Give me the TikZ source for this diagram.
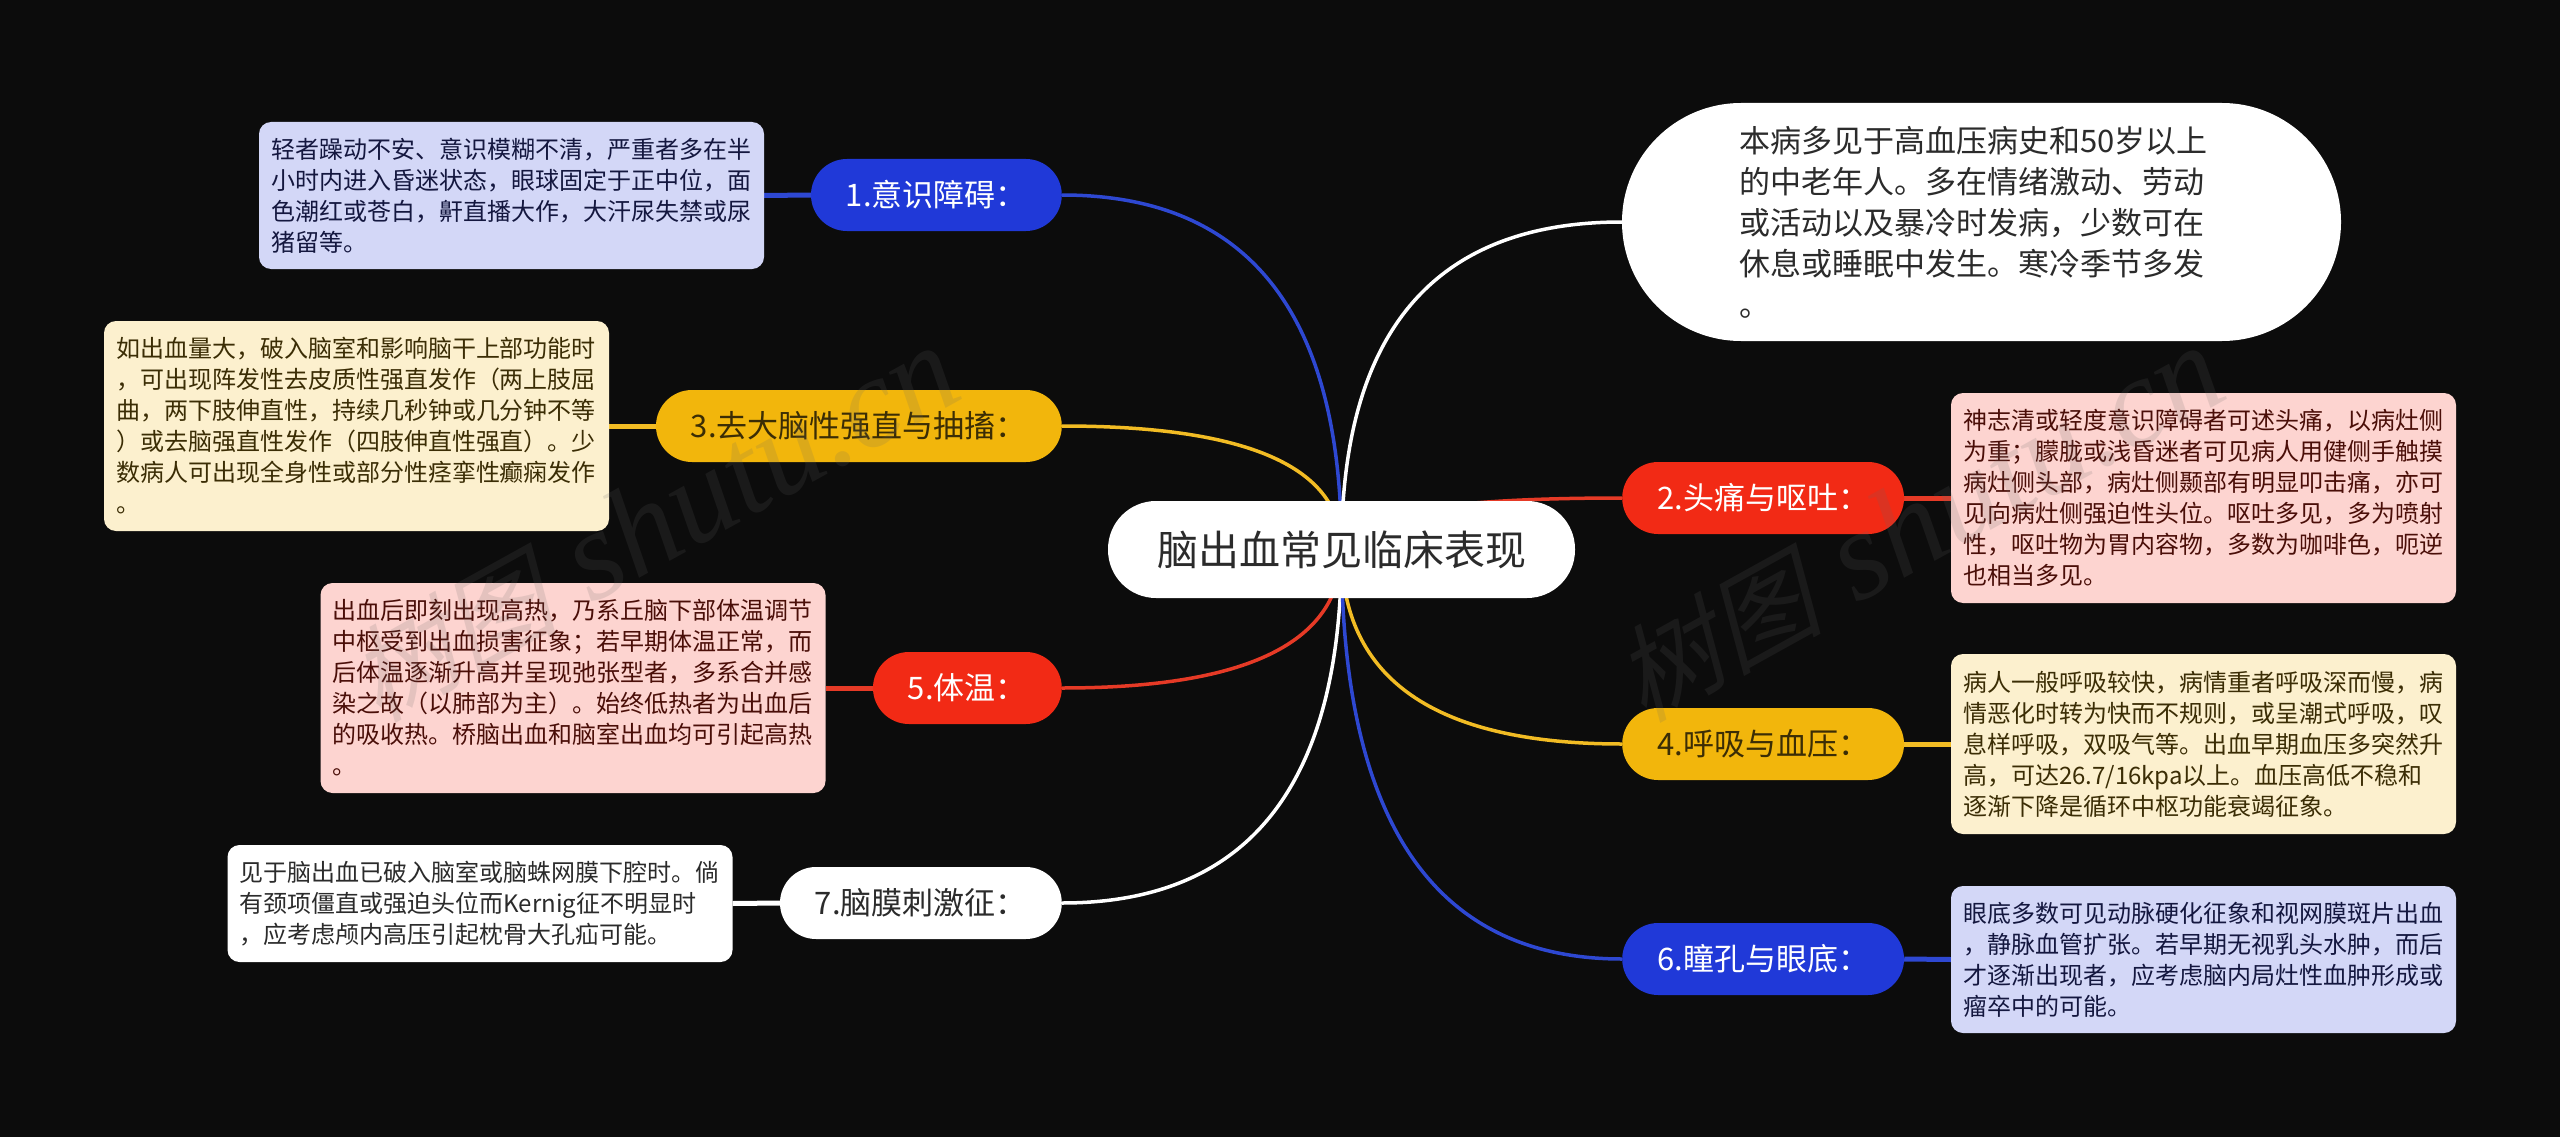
\documentclass[tikz,border=0pt]{standalone}
\usepackage{fontspec}
\setmainfont{Noto Sans CJK SC}
\newfontfamily\wmcjk[FakeSlant=0.25]{Noto Sans CJK SC}
\newfontfamily\wmlatin{Liberation Serif}
\usetikzlibrary{backgrounds,calc}
\definecolor{pagebg}{HTML}{0C0C0C}
\definecolor{inkgray}{HTML}{2B2B2B}
\definecolor{pillblue}{HTML}{2039D8}
\definecolor{pillred}{HTML}{F22A15}
\definecolor{pillyellow}{HTML}{F2B60C}
\definecolor{linkblue}{HTML}{2E48D2}
\definecolor{linkred}{HTML}{E63A26}
\definecolor{linkyellow}{HTML}{F2BC24}
\definecolor{noteblue}{HTML}{D3D7F7}
\definecolor{notered}{HTML}{FDD4D0}
\definecolor{noteyellow}{HTML}{FCF0CE}
\definecolor{inkblue}{HTML}{14173F}
\definecolor{inkred}{HTML}{4A0E08}
\definecolor{inkyellow}{HTML}{3B2D05}
\tikzset{
	pill/.style={rounded corners=36pt, minimum height=72pt, inner xsep=35pt, inner ysep=0pt, font=\fontsize{31}{36}\selectfont},
	leftpill/.style={pill, anchor=east},
	rightpill/.style={pill, anchor=west},
	note/.style={rounded corners=12pt, minimum width=505pt, inner xsep=12pt, inner ysep=0pt, text width=481pt, align=left, font=\fontsize{24}{31}\selectfont},
	link/.style={line width=3.5pt},
	stem/.style={line width=5pt},
	watermark/.style={rotate=29, anchor=base west, text=gray!80!black, opacity=0.16}
}
% root to a branch: the control point sits where the two tangents meet
\newcommand{\curvelink}[2]{\draw[link, #1] (root.center) .. controls ($(root.center)!0.667!(root.center |- #2)$) and ($(#2)!0.667!(root.center |- #2)$) .. (#2);}
\newcommand{\marktext}{{\wmcjk\fontsize{105}{105}\selectfont 树图}\hspace{34pt}{\wmlatin\itshape\fontsize{128}{128}\selectfont shutu.cn}}
\begin{document}
\begin{tikzpicture}[x=1pt,y=-1pt]
	\useasboundingbox (0,0) rectangle (2560,1137);
	% centre and intro
	\node[fill=white, text=inkgray, rounded corners=48pt, minimum height=97pt, inner xsep=49pt, inner ysep=0pt, font=\fontsize{41}{48}\selectfont] (root) at (1341.5,549.5) {脑出血常见临床表现};
	\node[fill=white, text=inkgray, rounded corners=119pt, minimum width=719pt, minimum height=238pt, inner xsep=117pt, inner ysep=0pt, text width=485pt, align=left, font=\fontsize{31}{41}\selectfont] (intro) at (1981.5,222) {本病多见于高血压病史和50岁以上\\的中老年人。多在情绪激动、劳动\\或活动以及暴冷时发病，少数可在\\休息或睡眠中发生。寒冷季节多发\\。};
	% left side
	\node[leftpill, fill=pillblue, text=white] (pillone) at (1062,195) {1.意识障碍：};
	\node[leftpill, fill=pillyellow, text=inkyellow] (pillthree) at (1062,426) {3.去大脑性强直与抽搐：};
	\node[leftpill, fill=pillred, text=white] (pillfive) at (1062,688) {5.体温：};
	\node[leftpill, fill=white, text=inkgray] (pillseven) at (1062,903) {7.脑膜刺激征：};
	\node[note, fill=noteblue, text=inkblue, minimum height=147pt] (noteone) at (511.5,195.5) {轻者躁动不安、意识模糊不清，严重者多在半\\小时内进入昏迷状态，眼球固定于正中位，面\\色潮红或苍白，鼾直播大作，大汗尿失禁或尿\\猪留等。};
	\node[note, fill=noteyellow, text=inkyellow, minimum height=210pt] (notethree) at (356.5,426) {如出血量大，破入脑室和影响脑干上部功能时\\，可出现阵发性去皮质性强直发作（两上肢屈\\曲，两下肢伸直性，持续几秒钟或几分钟不等\\）或去脑强直性发作（四肢伸直性强直）。少\\数病人可出现全身性或部分性痉挛性癫痫发作\\。};
	\node[note, fill=notered, text=inkred, minimum height=210pt] (notefive) at (573,688) {出血后即刻出现高热，乃系丘脑下部体温调节\\中枢受到出血损害征象；若早期体温正常，而\\后体温逐渐升高并呈现弛张型者，多系合并感\\染之故（以肺部为主）。始终低热者为出血后\\的吸收热。桥脑出血和脑室出血均可引起高热\\。};
	\node[note, fill=white, text=inkgray, minimum height=117pt] (noteseven) at (480,903.5) {见于脑出血已破入脑室或脑蛛网膜下腔时。倘\\有颈项僵直或强迫头位而Kernig征不明显时\\，应考虑颅内高压引起枕骨大孔疝可能。};
	% right side
	\node[rightpill, fill=pillred, text=white] (pilltwo) at (1622,498) {2.头痛与呕吐：};
	\node[rightpill, fill=pillyellow, text=inkyellow] (pillfour) at (1622,744) {4.呼吸与血压：};
	\node[rightpill, fill=pillblue, text=white] (pillsix) at (1622,959) {6.瞳孔与眼底：};
	\node[note, fill=notered, text=inkred, minimum height=210pt] (notetwo) at (2203.5,498) {神志清或轻度意识障碍者可述头痛，以病灶侧\\为重；朦胧或浅昏迷者可见病人用健侧手触摸\\病灶侧头部，病灶侧颞部有明显叩击痛，亦可\\见向病灶侧强迫性头位。呕吐多见，多为喷射\\性，呕吐物为胃内容物，多数为咖啡色，呃逆\\也相当多见。};
	\node[note, fill=noteyellow, text=inkyellow, minimum height=180pt] (notefour) at (2203.5,744) {病人一般呼吸较快，病情重者呼吸深而慢，病\\情恶化时转为快而不规则，或呈潮式呼吸，叹\\息样呼吸，双吸气等。出血早期血压多突然升\\高，可达26.7/16kpa以上。血压高低不稳和\\逐渐下降是循环中枢功能衰竭征象。};
	\node[note, fill=noteblue, text=inkblue, minimum height=147pt] (notesix) at (2203.5,959.5) {眼底多数可见动脉硬化征象和视网膜斑片出血\\，静脉血管扩张。若早期无视乳头水肿，而后\\才逐渐出现者，应考虑脑内局灶性血肿形成或\\瘤卒中的可能。};
	% connectors sit under the nodes
	\begin{pgfonlayer}{background}
		\fill[pagebg] (0,0) rectangle (2560,1137);
		\curvelink{linkblue}{pillone.east}
		\curvelink{linkyellow}{pillthree.east}
		\curvelink{linkred}{pillfive.east}
		\curvelink{white}{pillseven.east}
		\curvelink{white}{intro.west}
		\curvelink{linkred}{pilltwo.west}
		\curvelink{linkyellow}{pillfour.west}
		\curvelink{linkblue}{pillsix.west}
		\draw[stem, linkblue] (pillone.west) -- (noteone.east);
		\draw[stem, linkyellow] (pillthree.west) -- (notethree.east);
		\draw[stem, linkred] (pillfive.west) -- (notefive.east);
		\draw[stem, white] (pillseven.west) -- (noteseven.east);
		\draw[stem, linkred] (pilltwo.east) -- (notetwo.west);
		\draw[stem, linkyellow] (pillfour.east) -- (notefour.west);
		\draw[stem, linkblue] (pillsix.east) -- (notesix.west);
	\end{pgfonlayer}
	% faint marks across the page
	\node[watermark] (markleft) at (375,725) {\marktext};
	\node[watermark] (markright) at (1640,725) {\marktext};
\end{tikzpicture}
\end{document}
